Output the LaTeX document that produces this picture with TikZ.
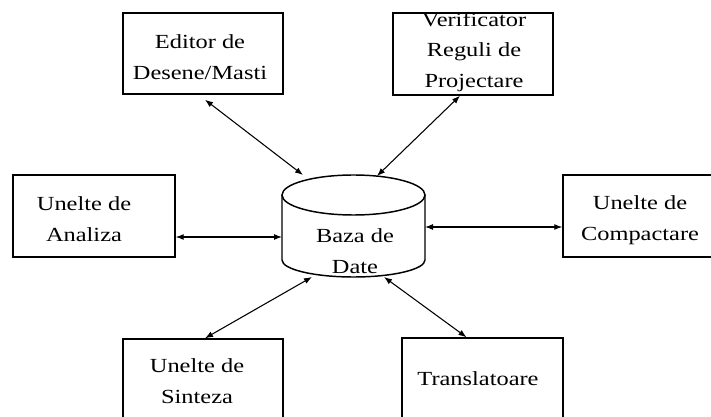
\documentclass[tikz,border=0pt]{standalone}
\usepackage{fontspec}
\setmainfont[FakeStretch=1.22]{Liberation Serif}
\usetikzlibrary{arrows.meta}
\begin{document}
\begin{tikzpicture}[x=0.75pt,y=-0.75pt,
  box/.style={draw,line width=1.1pt,inner sep=0pt},
  lbl/.style={align=center,inner sep=0pt,font=\fontsize{15pt}{23pt}\selectfont},
  cyl/.style={line width=1.1pt},
  link/.style={line width=0.8pt,{Latex[length=6pt,width=4.5pt]}-{Latex[length=6pt,width=4.5pt]}}]
\useasboundingbox[fill=white] (0,0) rectangle (711,417);

% tool boxes
\node[box,minimum width=120pt,minimum height=60.75pt] (ed) at (203,53.5) {};
\node[box,minimum width=120pt,minimum height=61.5pt] (vr) at (473,54) {};
\node[box,minimum width=121.5pt,minimum height=61.5pt] (an) at (94,216) {};
\node[box,minimum width=114.75pt,minimum height=61.5pt] (cp) at (639.5,216) {};
\node[box,minimum width=120pt,minimum height=68.25pt] (si) at (203,384.5) {};
\node[box,minimum width=120.75pt,minimum height=69pt] (tr) at (482.5,384) {};

% box labels
\node[lbl] (edt) at (200,57) {Editor de\\Desene/Masti};
\node[lbl] (vrt) at (474,52) {Verificator\\Reguli de\\Projectare};
\node[lbl] (ant) at (84,219) {Unelte de\\Analiza};
\node[lbl] (cpt) at (640,220) {Unelte de\\Compactare};
\node[lbl] (sit) at (197,381) {Unelte de\\Sinteza};
\node[lbl,anchor=base] (trt) at (478,385) {Translatoare};

% database cylinder
\node[minimum width=107.25pt,minimum height=76.5pt,inner sep=0pt] (db) at (353.5,226) {};
\draw[cyl] (353.5,195) ellipse [x radius=71.5, y radius=20];
\draw[cyl] (282,195) -- (282,260) arc[start angle=180, end angle=0, x radius=71.5, y radius=17] -- (425,195);
\node[lbl] (dbt) at (355,251) {Baza de\\Date};

% attachment points on the cylinder
\coordinate (dbA) at (303,175);
\coordinate (dbB) at (377,176);
\coordinate (dbC) at (282,237);
\coordinate (dbD) at (425,227);
\coordinate (dbE) at (312,277);
\coordinate (dbF) at (384,277);

% connectors
\draw[link] ([shift={(2,5)}]ed.south) -- (dbA);
\draw[link] ([shift={(-13,0)}]vr.south) -- (dbB);
\draw[link] ([shift={(0,21)}]an.east) -- (dbC);
\draw[link] (dbD) -- ([shift={(0,11)}]cp.west);
\draw[link] ([shift={(2,0)}]si.north) -- (dbE);
\draw[link] ([shift={(-16,0)}]tr.north) -- (dbF);
\end{tikzpicture}
\end{document}
